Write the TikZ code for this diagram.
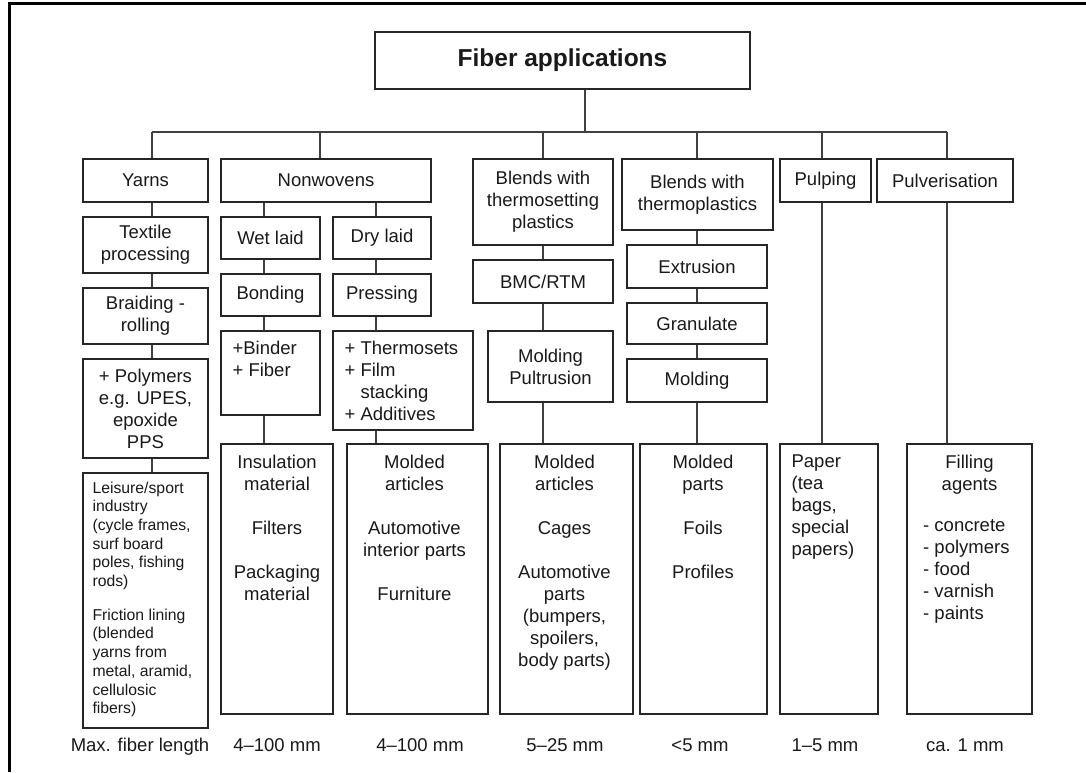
\documentclass[tikz,border=0pt]{standalone}
\usepackage{fontspec}
\setmainfont{Liberation Sans}
\newcommand\bodyfont{\fontsize{18.5}{22}\selectfont}
\newcommand\smallbody{\fontsize{15.75}{18.7}\selectfont}
\newcommand\titlefont{\fontsize{24.5}{28}\selectfont\bfseries}
% box from (x1,y1) to (x2,y2), name, text
\newcommand\mkbox[6]{\node[box, minimum width={(#4)-(#2)}, minimum height={(#5)-(#3)}] (#1) at ({((#2)+(#4))/2},{((#3)+(#5))/2}) {#6};}
\tikzset{
  box/.style={draw=black!85, line width=1.2pt, inner sep=0pt, align=center, font=\bodyfont, text=black!90},
  conn/.style={draw=black!75, line width=1.1pt},
  txt/.style={inner sep=0pt, font=\bodyfont, text=black!90},
  lab/.style={inner sep=0pt, font=\bodyfont, text=black!90, anchor=base},
}
\begin{document}
\begin{tikzpicture}[x=1pt,y=-1pt]
\useasboundingbox (0,0) rectangle (1086,772);
% page frame (top and left edges)
\draw[line width=3pt, line join=miter] (1086,3) -- (9,3) -- (9,772);

% title
\node[box, font=\titlefont, minimum width=375, minimum height=57] (title) at (562.5,60.5) {Fiber applications};

% first level
\mkbox{yarns}{83}{159}{208}{202}{Yarns}
\mkbox{nonw}{221}{159}{431}{202}{Nonwovens}
\mkbox{bthset}{473}{159}{613}{245}{Blends with\\thermosetting\\plastics}
\mkbox{bthpl}{622}{159}{773}{230}{Blends with\\thermoplastics}
\mkbox{pulp}{780}{159}{871}{202}{Pulping}
\mkbox{pulv}{877}{159}{1013}{202}{Pulverisation}

% yarns column
\mkbox{textile}{83}{217}{208}{273}{Textile\\processing}
\mkbox{braid}{83}{288}{208}{344}{Braiding -\\rolling}
\mkbox{poly}{83}{359}{208}{458}{+ Polymers\\e.g. UPES,\\epoxide\\PPS}
\mkbox{leis}{83}{473}{208}{728}{}

% nonwovens columns
\mkbox{wet}{221}{217}{320}{259}{Wet laid}
\mkbox{bond}{221}{274}{320}{316}{Bonding}
\mkbox{binder}{221}{331}{320}{415}{}
\mkbox{ins}{221}{444}{333}{714}{}
\mkbox{dry}{333}{217}{431}{259}{Dry laid}
\mkbox{press}{333}{274}{431}{316}{Pressing}
\mkbox{thermo}{333}{331}{473}{430}{}
\mkbox{molda}{347}{444}{488}{714}{}

% thermosetting column
\mkbox{bmc}{473}{260}{613}{303}{BMC/RTM}
\mkbox{mpul}{488}{331}{613}{402}{Molding\\Pultrusion}
\mkbox{moldb}{500}{444}{633}{714}{}

% thermoplastics column
\mkbox{extr}{627}{245}{767}{288}{Extrusion}
\mkbox{gran}{627}{303}{767}{344}{Granulate}
\mkbox{mold}{627}{359}{767}{402}{Molding}
\mkbox{moldc}{640}{444}{767}{714}{}

% pulping and pulverisation
\mkbox{paper}{780}{444}{878}{714}{}
\mkbox{fill}{907}{444}{1032}{714}{}

% connectors
\coordinate (bus) at (585,132);
\coordinate (cY) at (152,132);
\coordinate (cN) at (320,132);
\coordinate (cT) at (543,132);
\coordinate (cP) at (697,132);
\coordinate (cU) at (822,132);
\coordinate (cV) at (947,132);
\coordinate (cW) at (264,0);
\coordinate (cD) at (376,0);

\draw[conn] (title.south -| bus) -- (bus);
\draw[conn] (cY) -- (cV);
\foreach \c/\n in {cY/yarns, cN/nonw, cT/bthset, cP/bthpl, cU/pulp, cV/pulv}
  \draw[conn] (\c) -- (\c |- \n.north);
\foreach \a/\b in {yarns/textile, textile/braid, braid/poly, poly/leis}
  \draw[conn] (\a.south -| cY) -- (\b.north -| cY);
\foreach \a/\b in {nonw/wet, wet/bond, bond/binder, binder/ins}
  \draw[conn] (\a.south -| cW) -- (\b.north -| cW);
\foreach \a/\b in {nonw/dry, dry/press, press/thermo, thermo/molda}
  \draw[conn] (\a.south -| cD) -- (\b.north -| cD);
\foreach \a/\b in {bthset/bmc, bmc/mpul, mpul/moldb}
  \draw[conn] (\a.south -| cT) -- (\b.north -| cT);
\foreach \a/\b in {bthpl/extr, extr/gran, gran/mold, mold/moldc}
  \draw[conn] (\a.south -| cP) -- (\b.north -| cP);
\draw[conn] (pulp.south -| cU) -- (paper.north -| cU);
\draw[conn] (pulv.south -| cV) -- (fill.north -| cV);

% box contents
\node[txt, anchor=north west, align=left, font=\smallbody] (leist) at ([xshift=10pt,yshift=-9pt]leis.north west)
  {Leisure/sport\\industry\\(cycle frames,\\surf board\\poles, fishing\\rods)\\[15pt]Friction lining\\(blended\\yarns from\\metal, aramid,\\cellulosic\\fibers)};
\node[txt, anchor=north west, align=left] (bindert) at ([xshift=12pt,yshift=-10.5pt]binder.north west)
  {+Binder\\+ Fiber};
\node[txt, anchor=north west, align=left] (thermot) at ([xshift=12pt,yshift=-10.5pt]thermo.north west)
  {+ Thermosets\\+ Film\\\hphantom{+ }stacking\\+ Additives};
\node[txt, anchor=north, align=center] (inst) at ([yshift=-11.3pt]ins.north)
  {Insulation\\material\\[22pt]Filters\\[22pt]Packaging\\material};
\node[txt, anchor=north, align=center] (moldat) at ([xshift=-3pt,yshift=-11.3pt]molda.north)
  {Molded\\articles\\[22pt]Automotive\\interior parts\\[22pt]Furniture};
\node[txt, anchor=north, align=center] (moldbt) at ([xshift=-2pt,yshift=-11.3pt]moldb.north)
  {Molded\\articles\\[22pt]Cages\\[22pt]Automotive\\parts\\(bumpers,\\spoilers,\\body parts)};
\node[txt, anchor=north, align=center] (moldct) at ([xshift=-0.5pt,yshift=-11.3pt]moldc.north)
  {Molded\\parts\\[22pt]Foils\\[22pt]Profiles};
\node[txt, anchor=north west, align=left] (papert) at ([xshift=12pt,yshift=-11.3pt]paper.north west)
  {Paper\\(tea\\bags,\\special\\papers)};
\node[txt, anchor=north, align=center] (fillt) at ([yshift=-11.3pt]fill.north)
  {Filling\\agents};
\node[txt, anchor=north west, align=left] (filll) at (923,519.5)
  {- concrete\\- polymers\\- food\\- varnish\\- paints};

% fibre lengths
\node[lab] (l1) at (140,751.5) {Max. fiber length};
\node[lab] (l2) at (277,751.5) {4--100 mm};
\node[lab] (l3) at (420,751.5) {4--100 mm};
\node[lab] (l4) at (565,751.5) {5--25 mm};
\node[lab] (l5) at (700,751.5) {<5 mm};
\node[lab] (l6) at (825,751.5) {1--5 mm};
\node[lab] (l7) at (965,751.5) {ca. 1 mm};
\end{tikzpicture}
\end{document}
